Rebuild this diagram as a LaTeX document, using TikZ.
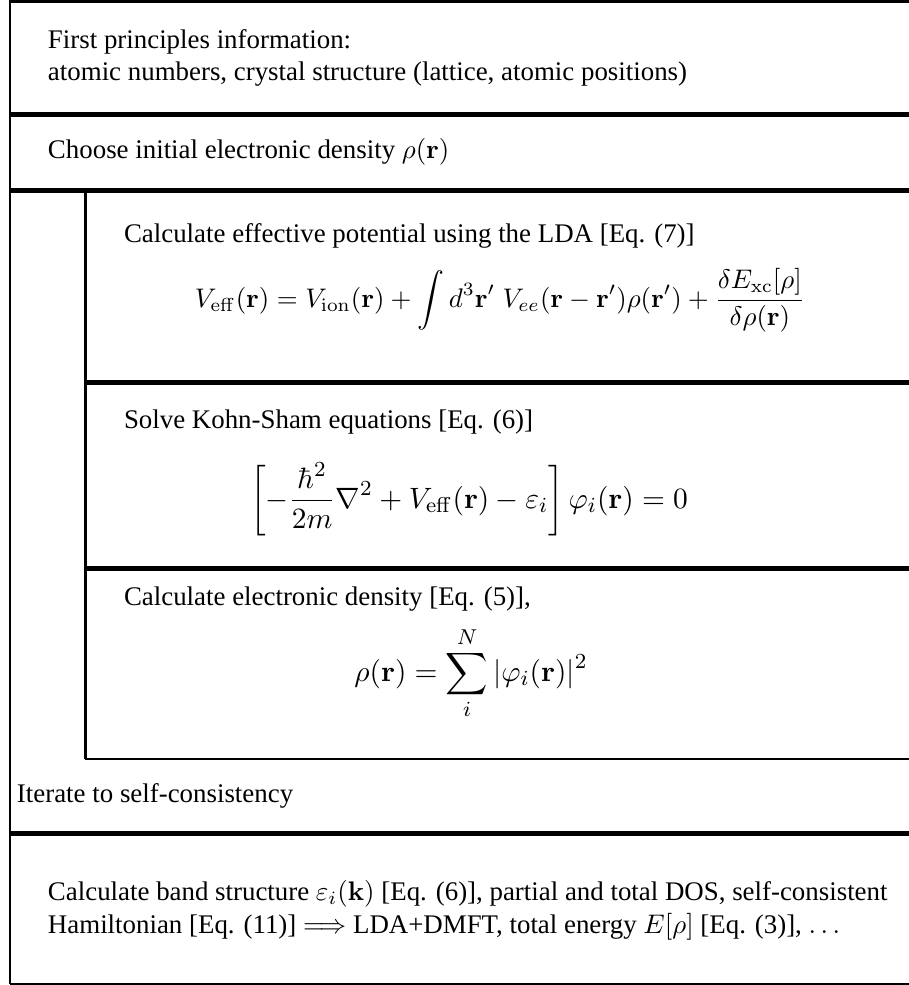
\documentclass[tikz,border=0pt]{standalone}
\usepackage{amsmath}
\usepackage[no-math]{fontspec}
\setmainfont{Liberation Serif}
\begin{document}
\begin{tikzpicture}[x=0.372pt,y=-0.372pt,
  txt/.style={anchor=base west,inner sep=0pt,outer sep=0pt},
  eqn/.style={anchor=base,inner sep=0pt,outer sep=0pt},
  bigeqn/.style={eqn,font=\fontsize{10.95pt}{13pt}\selectfont},
  thickrule/.style={line width=1.86pt},
  thinrule/.style={line width=1.1pt},
  hairrule/.style={line width=0.75pt}]
\useasboundingbox (0,0) rectangle (909,985);
% frame lines
\coordinate (TL) at (10,1.2);
\coordinate (TR) at (909,1.2);
\coordinate (BL) at (10,984);
\coordinate (BR) at (909,984);
\draw[thinrule] (TL) -- (TR);
\draw[thinrule] (10,0) -- (BL);
\draw[hairrule] (BL) -- (BR);
\draw[thickrule] (10,114) -- (909,114);
\draw[thickrule] (10,190) -- (909,190);
\draw[thinrule] (85.5,190) -- (85.5,759);
\draw[thickrule] (85.5,382) -- (909,382);
\draw[thickrule] (85.5,568) -- (909,568);
\draw[thinrule] (84.9,759) -- (909,759);
\draw[thickrule] (10,833) -- (909,833);
% texts
\node[txt] (t1) at (48,48) {First principles information:};
\node[txt] (t2) at (48,80) {atomic numbers, crystal structure (lattice, atomic positions)};
\node[txt] (t3) at (48,158) {Choose initial electronic density $\rho(\mathbf{r})$};
\node[txt] (t4) at (124,242) {Calculate effective potential using the LDA [Eq. (7)]};
\node[eqn] (e1) at (500,307) {$\displaystyle V_{\mathrm{eff}}(\mathbf{r}) = V_{\mathrm{ion}}(\mathbf{r}) + \int d^3\mathbf{r}'\; V_{ee}(\mathbf{r}-\mathbf{r}')\rho(\mathbf{r}') + \frac{\delta E_{\mathrm{xc}}[\rho]}{\delta\rho(\mathbf{r})}$};
\node[txt] (t5) at (124,428) {Solve Kohn-Sham equations [Eq. (6)]};
\node[bigeqn] (e2) at (469,508) {$\displaystyle \left[-\frac{\hbar^2}{2m}\nabla^2 + V_{\mathrm{eff}}(\mathbf{r}) - \varepsilon_i\right]\varphi_i(\mathbf{r}) = 0$};
\node[txt] (t6) at (124,605) {Calculate electronic density [Eq. (5)],};
\node[bigeqn] (e3) at (471,681) {$\displaystyle \rho(\mathbf{r}) = \sum_i^N |\varphi_i(\mathbf{r})|^2$};
\node[txt] (t7) at (17,802) {Iterate to self-consistency};
\node[txt] (t8) at (48,900) {Calculate band structure $\varepsilon_i(\mathbf{k})$ [Eq. (6)], partial and total DOS, self-consistent};
\node[txt] (t9) at (48,933) {Hamiltonian [Eq. (11)] $\Longrightarrow$ LDA+DMFT, total energy $E[\rho]$ [Eq. (3)], $\ldots$};
\end{tikzpicture}
\end{document}
